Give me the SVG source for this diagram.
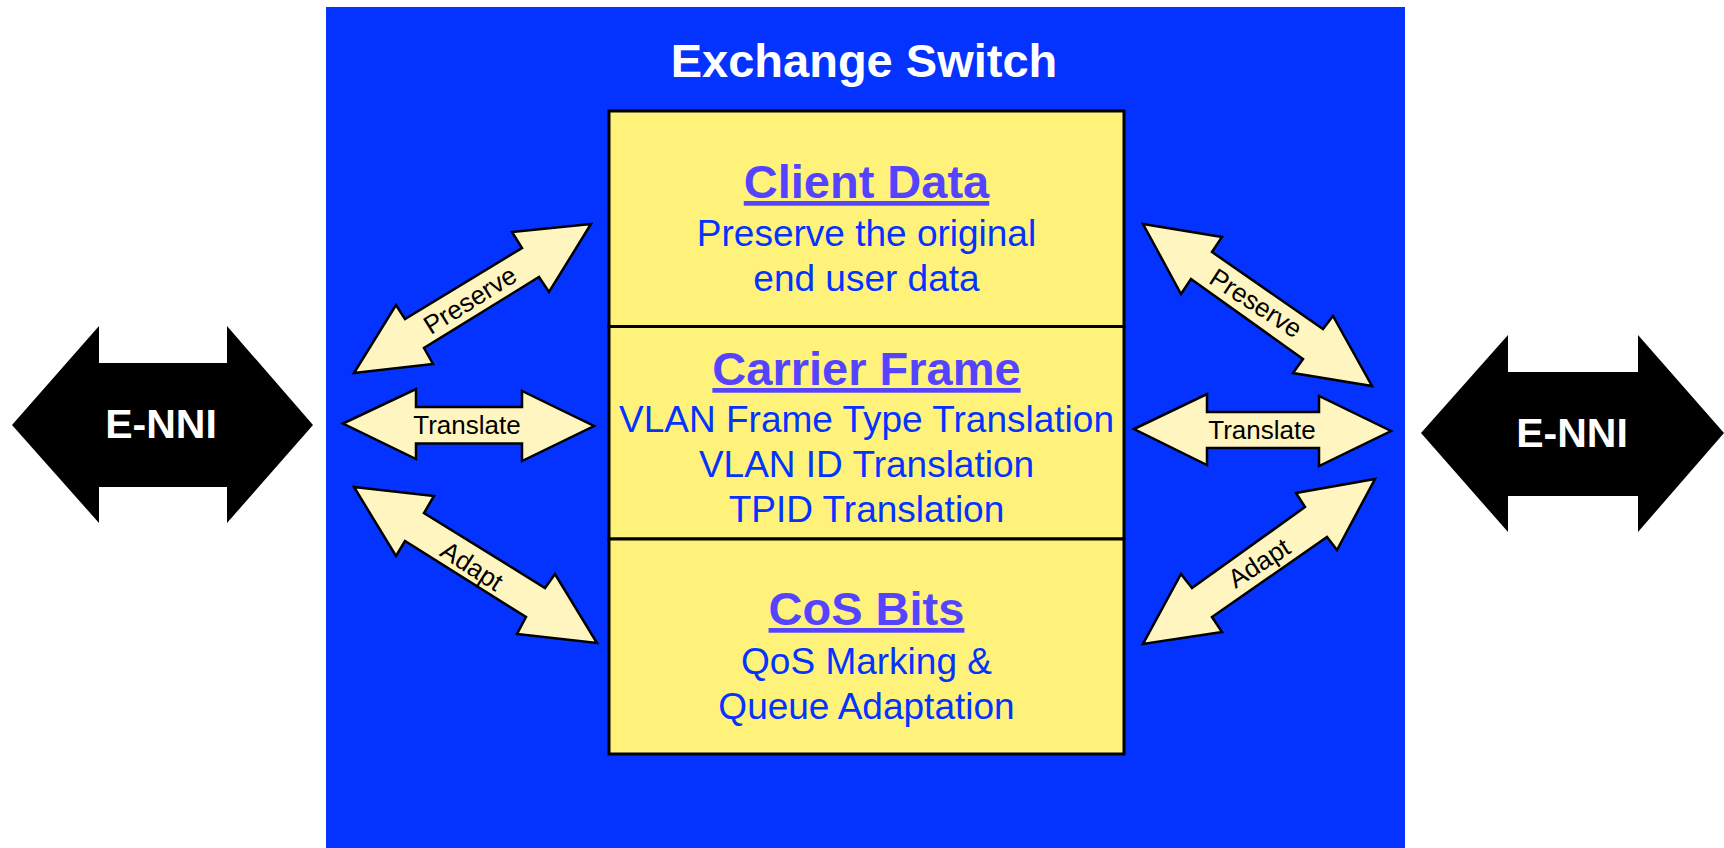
<svg xmlns="http://www.w3.org/2000/svg" width="1724" height="848" viewBox="0 0 1724 848">
  <style>
    .enni { fill: #000000; }
    .enni-label { font-family: "Liberation Sans", Arial, sans-serif; font-weight: bold; font-size: 41px; fill: #ffffff; text-anchor: middle; }
    .small-arrow { fill: #fff5c0; stroke: #000000; stroke-width: 2.5; stroke-linejoin: miter; }
    .arrow-label { font-family: "Liberation Sans", Arial, sans-serif; font-size: 26px; fill: #000000; text-anchor: middle; }
    .layer { fill: #fff27a; stroke: #000000; stroke-width: 3; }
    .heading { font-family: "Liberation Sans", Arial, sans-serif; font-weight: bold; font-size: 47px; fill: #5544ff; text-anchor: middle; text-decoration: underline; }
    .body { font-family: "Liberation Sans", Arial, sans-serif; font-size: 37px; fill: #0433ff; text-anchor: middle; }
    .title { font-family: "Liberation Sans", Arial, sans-serif; font-weight: bold; font-size: 47px; fill: #ffffff; text-anchor: middle; }
  </style>

  <rect width="1724" height="848" fill="#ffffff"/>

  <!-- Exchange switch container -->
  <g id="exchange-switch">
    <rect x="326" y="7" width="1079" height="845" fill="#0433ff"/>
    <text class="title" x="864" y="77">Exchange Switch</text>
  </g>

  <!-- Layer stack -->
  <g id="client-data">
    <rect class="layer" x="609" y="111" width="515" height="215.5"/>
    <text class="heading" x="866.5" y="198">Client Data</text>
    <text class="body" x="866.5" y="246">Preserve the original</text>
    <text class="body" x="866.5" y="291">end user data</text>
  </g>
  <g id="carrier-frame">
    <rect class="layer" x="609" y="326.5" width="515" height="212.5"/>
    <text class="heading" x="866.5" y="385">Carrier Frame</text>
    <text class="body" x="866.5" y="432">VLAN Frame Type Translation</text>
    <text class="body" x="866.5" y="477">VLAN ID Translation</text>
    <text class="body" x="866.5" y="522">TPID Translation</text>
  </g>
  <g id="cos-bits">
    <rect class="layer" x="609" y="539" width="515" height="215"/>
    <text class="heading" x="866.5" y="625">CoS Bits</text>
    <text class="body" x="866.5" y="674">QoS Marking &amp;</text>
    <text class="body" x="866.5" y="719">Queue Adaptation</text>
  </g>

  <!-- External interfaces -->
  <g id="enni-left">
    <polygon class="enni" points="12,425 99,326 99,363 227,363 227,326 313,425 227,523 227,487 99,487 99,523"/>
    <text class="enni-label" x="161" y="438">E-NNI</text>
  </g>
  <g id="enni-right">
    <polygon class="enni" points="1421,433 1508,335 1508,372 1638,372 1638,335 1724,433 1638,532 1638,496 1508,496 1508,532"/>
    <text class="enni-label" x="1572" y="447">E-NNI</text>
  </g>

  <!-- Connectors between interfaces and layers -->
  <g id="connectors">
    <g id="preserve-left">
      <polygon class="small-arrow" points="354,373 396,305 405,319 522,248 512,232 591,224 549,292 539,277 424,348 433,364"/>
      <text class="arrow-label" transform="translate(470,300) rotate(-32)" x="0" y="9">Preserve</text>
    </g>
    <g id="translate-left">
      <polygon class="small-arrow" points="343,423.5 416,389 416,407 522,407 522,391 594,426 522,461 522,443.5 416,443.5 416,459"/>
      <text class="arrow-label" x="467" y="434">Translate</text>
    </g>
    <g id="adapt-left">
      <polygon class="small-arrow" points="354,487 434,496 424,513 545,588 555,574 597,643 517,634 526,617 405,541 396,556"/>
      <text class="arrow-label" transform="translate(472,566) rotate(33)" x="0" y="9">Adapt</text>
    </g>
    <g id="preserve-right">
      <polygon class="small-arrow" points="1143,224 1222,237 1212,252 1323,329 1333,316 1372,386 1293,373 1303,359 1191,279 1181,294"/>
      <text class="arrow-label" transform="translate(1256,303) rotate(33)" x="0" y="9">Preserve</text>
    </g>
    <g id="translate-right">
      <polygon class="small-arrow" points="1134,429 1207,394 1207,412 1319,412 1319,396 1391,431 1319,466 1319,448 1207,448 1207,465"/>
      <text class="arrow-label" x="1262" y="439">Translate</text>
    </g>
    <g id="adapt-right">
      <polygon class="small-arrow" points="1375,479 1337,550 1327,537 1212,617 1222,632 1143,644 1181,574 1192,588 1305,507 1296,493"/>
      <text class="arrow-label" transform="translate(1259,563) rotate(-33)" x="0" y="9">Adapt</text>
    </g>
  </g>
</svg>
